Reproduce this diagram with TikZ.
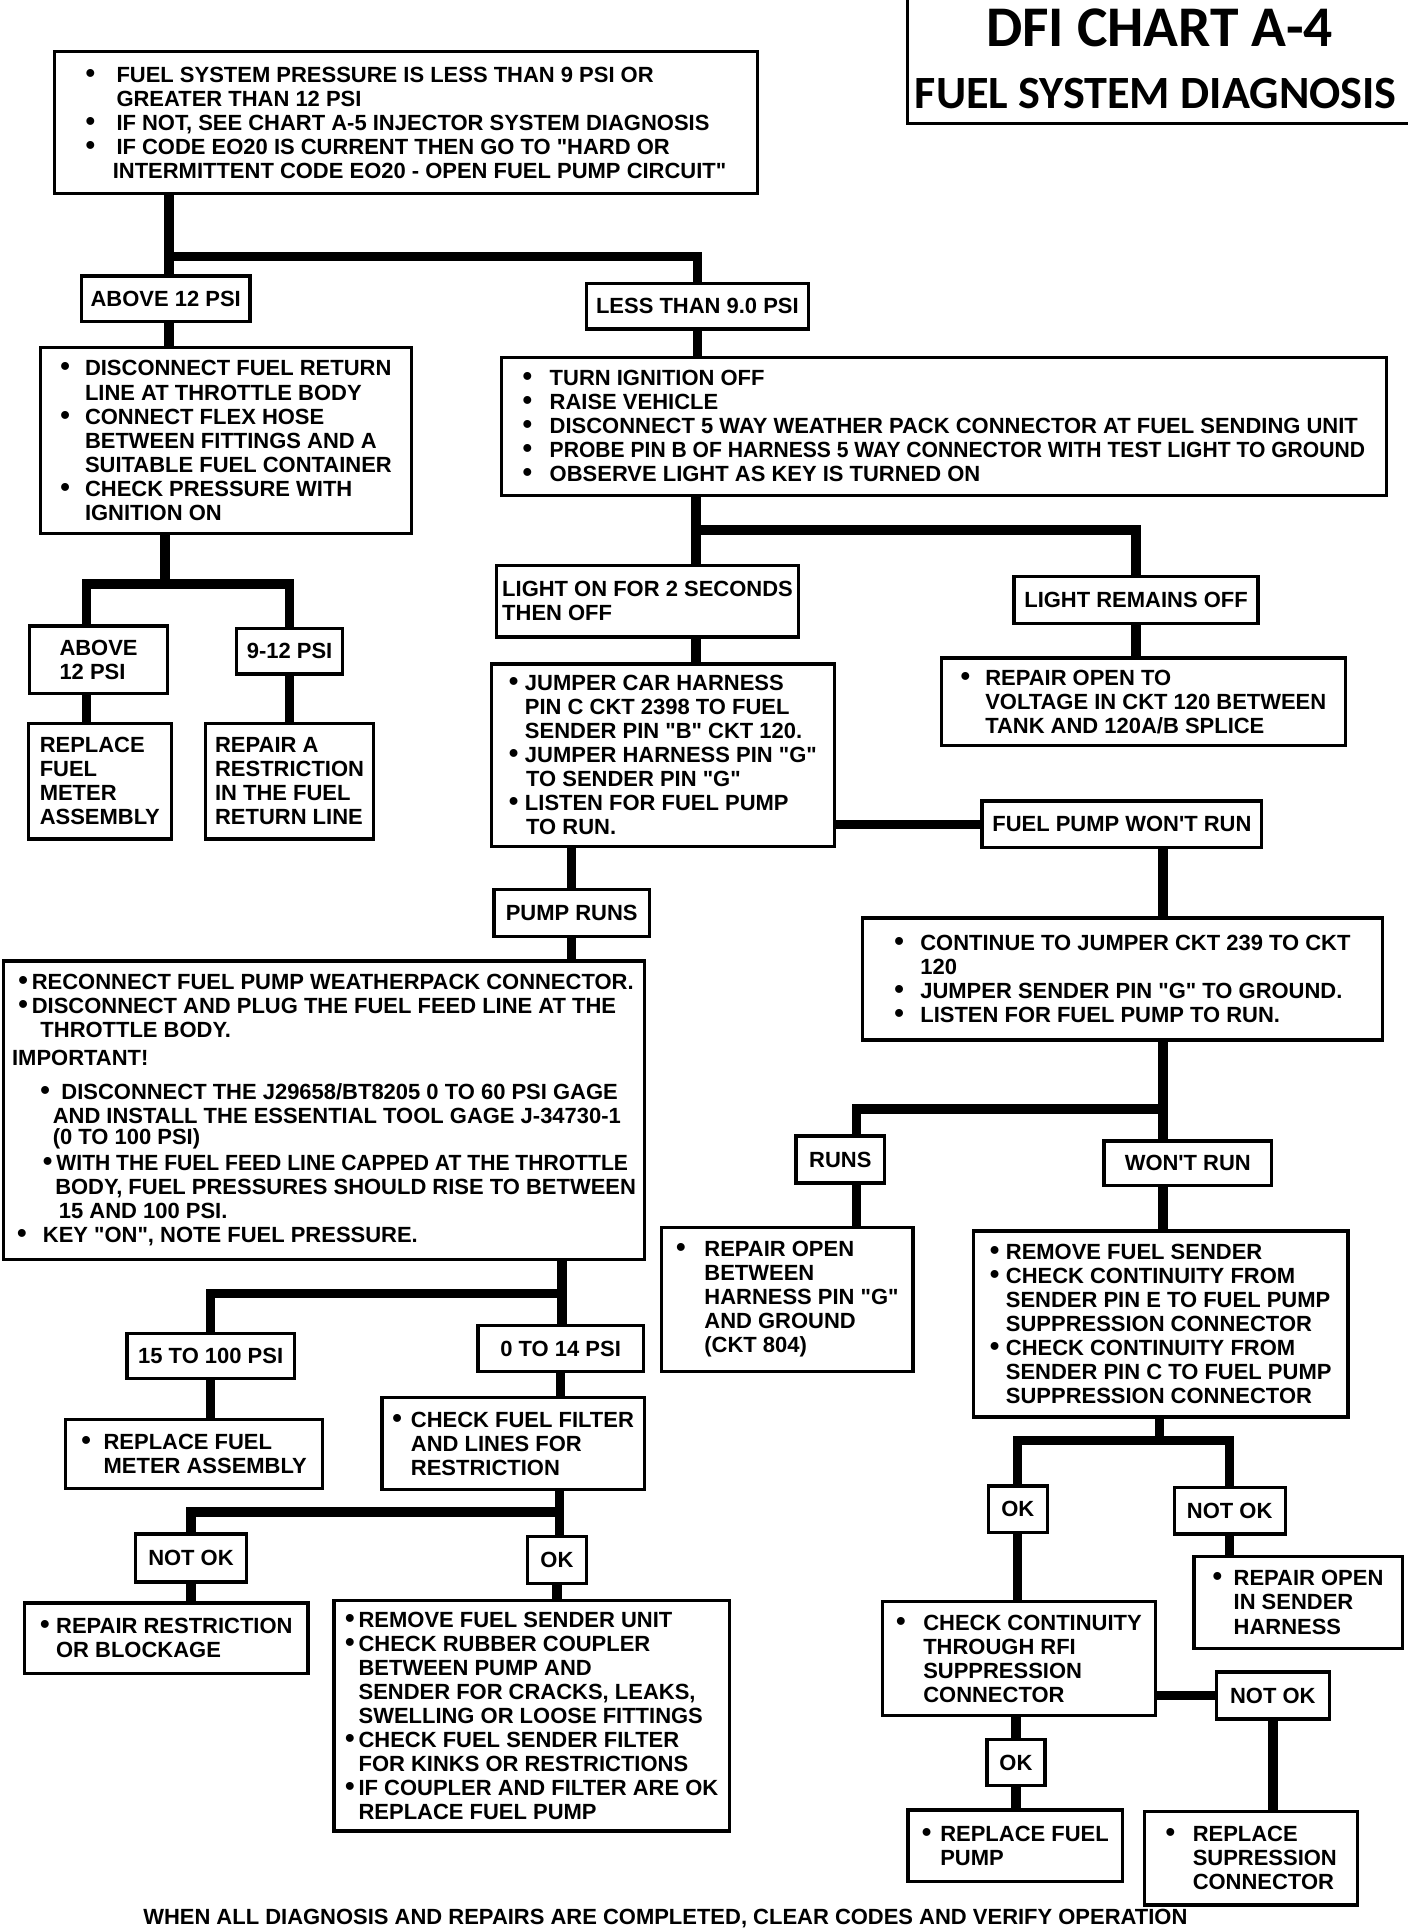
\documentclass[tikz,border=0pt]{standalone}
\usepackage{graphicx}
\usepackage{fontspec}
\newfontfamily\chartfont{Liberation Sans}
\newfontfamily\titlefont{Carlito}
\usepackage{tikz}
\usetikzlibrary{positioning}

\newlength{\un}\setlength{\un}{0.6pt}
\newcommand{\bl}[1][20]{\makebox[#1\un][l]{\scalebox{1.25}{\textbullet}}}
\newcommand{\ind}[1][20]{\hspace*{#1\un}}

\tikzset{
  box/.style={draw, line width=1.6pt, fill=white, align=left, inner sep=0pt,
    font=\chartfont\bfseries\fontsize{10.7}{11.7}\selectfont},
  wh/.style 2 args={minimum width=#1*0.6pt, minimum height=#2*0.6pt},
  conn/.style={line width=4.6pt},
  frame/.style={line width=1.6pt},
}

\begin{document}
\begin{tikzpicture}[x=0.6pt,y=-0.6pt]
\fill[white] (0,0) rectangle (1143,1568);
\useasboundingbox (0,0) rectangle (1143,1568);

% title
\draw[frame] (736.5,0) -- (736.5,100.5) -- (1143,100.5);
\node[font=\titlefont\bfseries\fontsize{28}{30}\selectfont] (title) at (941,23) {DFI CHART A-4};
\node[font=\titlefont\bfseries\fontsize{22.5}{24}\selectfont] (subtitle) at (938,76) {FUEL SYSTEM DIAGNOSIS};

% boxes
\node[box, wh={571}{115}] (start) at (329.5,99.5) {\bl[25]FUEL SYSTEM PRESSURE IS LESS THAN 9 PSI OR\\
\ind[25]GREATER THAN 12 PSI\\
\bl[25]IF NOT, SEE CHART A-5 INJECTOR SYSTEM DIAGNOSIS\\
\bl[25]IF CODE EO20 IS CURRENT THEN GO TO "HARD OR\\
\ind[22]INTERMITTENT CODE EO20 - OPEN FUEL PUMP CIRCUIT"};
\node[box, wh={137}{37}] (abv) at (134.5,242.5) {ABOVE 12 PSI};
\node[box, wh={180}{37}] (less) at (566,248.5) {LESS THAN 9.0 PSI};
\node[box, wh={301}{151}] (disc) at (183.5,357.5) {\bl DISCONNECT FUEL RETURN\\
\ind LINE AT THROTTLE BODY\\
\bl CONNECT FLEX HOSE\\
\ind BETWEEN FITTINGS AND A\\
\ind SUITABLE FUEL CONTAINER\\
\bl CHECK PRESSURE WITH\\
\ind IGNITION ON};
\node[box, wh={718}{112}] (probe) at (766,346) {\bl[22]TURN IGNITION OFF\\
\bl[22]RAISE VEHICLE\\
\bl[22]DISCONNECT 5 WAY WEATHER PACK CONNECTOR AT FUEL SENDING UNIT\\
\bl[22]\scalebox{0.96}[1]{PROBE PIN B OF HARNESS 5 WAY CONNECTOR WITH TEST LIGHT TO GROUND}\\
\bl[22]OBSERVE LIGHT AS KEY IS TURNED ON};
\node[box, wh={112}{55}] (abv2) at (80,535.5) {ABOVE\\12 PSI};
\node[box, wh={86}{37}] (mid) at (235,528.5) {9-12 PSI};
\node[box, wh={116}{94}] (repmeter) at (81,634) {REPLACE\\FUEL\\METER\\ASSEMBLY};
\node[box, wh={136}{94}] (represtr) at (235,634) {REPAIR A\\RESTRICTION\\IN THE FUEL\\RETURN LINE};
\node[box, wh={245}{58}] (lighton) at (525.5,488) {LIGHT ON FOR 2 SECONDS\\THEN OFF};
\node[box, wh={198}{38}] (lightoff) at (922,487) {LIGHT REMAINS OFF};
\node[box, wh={278}{148}] (jumper) at (538,613) {\bl[13]JUMPER CAR HARNESS\\
\ind[13]PIN C CKT 2398 TO FUEL\\
\ind[13]SENDER PIN "B" CKT 120.\\
\bl[13]JUMPER HARNESS PIN "G"\\
\ind[14]TO SENDER PIN "G"\\
\bl[13]LISTEN FOR FUEL PUMP\\
\ind[14]TO RUN.};
\node[box, wh={328}{71}] (repvolt) at (928,569.5) {\bl REPAIR OPEN TO\\
\ind VOLTAGE IN CKT 120 BETWEEN\\
\ind TANK AND 120A/B SPLICE};
\node[box, wh={227}{38}] (fpwr) at (910.5,669) {FUEL PUMP WON'T RUN};
\node[box, wh={422}{99}] (cont) at (911,794.5) {\bl[21]CONTINUE TO JUMPER CKT 239 TO CKT\\
\ind[21]120\\
\bl[21]JUMPER SENDER PIN "G" TO GROUND.\\
\bl[21]LISTEN FOR FUEL PUMP TO RUN.};
\node[box, wh={126}{38}] (pumpruns) at (464,741) {PUMP RUNS};
\node[box, wh={520}{242}] (reconn) at (263,901) {\ind[5]\bl[11]RECONNECT FUEL PUMP WEATHERPACK CONNECTOR.\\
\ind[5]\bl[11]DISCONNECT AND PLUG THE FUEL FEED LINE AT THE\\
\ind[23]THROTTLE BODY.\\[1.5pt]
IMPORTANT!\\[5pt]
\ind[23]\bl[17]DISCONNECT THE J29658/BT8205 0 TO 60 PSI GAGE\\
\ind[33]AND INSTALL THE ESSENTIAL TOOL GAGE J-34730-1\\[-1.5pt]
\ind[33](0 TO 100 PSI)\\[1pt]
\ind[25]\bl[11]\scalebox{0.96}[1]{WITH THE FUEL FEED LINE CAPPED AT THE THROTTLE}\\
\ind[35]BODY, FUEL PRESSURES SHOULD RISE TO BETWEEN\\
\ind[38]15 AND 100 PSI.\\
\ind[4]\bl[21]KEY "ON", NOTE FUEL PRESSURE.};
\node[box, wh={72}{38}] (runs) at (682,941) {RUNS};
\node[box, wh={136}{36}] (wontrun) at (964,944) {WON'T RUN};
\node[box, wh={204}{117}] (repgnd) at (639,1054.5) {\bl[23]REPAIR OPEN\\
\ind[23]BETWEEN\\
\ind[23]HARNESS PIN "G"\\
\ind[23]AND GROUND\\
\ind[23](CKT 804)};
\node[box, wh={304}{151}] (remsend) at (942,1074.5) {\bl[13]REMOVE FUEL SENDER\\
\bl[13]CHECK CONTINUITY FROM\\
\ind[13]SENDER PIN E TO FUEL PUMP\\
\ind[13]SUPPRESSION CONNECTOR\\
\bl[13]CHECK CONTINUITY FROM\\
\ind[13]SENDER PIN C TO FUEL PUMP\\
\ind[13]SUPPRESSION CONNECTOR};
\node[box, wh={136}{37}] (p15) at (171,1100.5) {15 TO 100 PSI};
\node[box, wh={134}{37}] (p0) at (455,1094.5) {0 TO 14 PSI};
\node[box, wh={209}{56}] (repmeter2) at (157.5,1180) {\bl[18]REPLACE FUEL\\
\ind[18]METER ASSEMBLY};
\node[box, wh={213}{75}] (filter) at (416.5,1171.5) {\bl[15]CHECK FUEL FILTER\\
\ind[15]AND LINES FOR\\
\ind[15]RESTRICTION};
\node[box, wh={90}{39}] (notok1) at (155,1264.5) {NOT OK};
\node[box, wh={48}{38}] (ok1) at (452,1266) {OK};
\node[box, wh={230}{57}] (blockage) at (135,1329.5) {\bl[13]REPAIR RESTRICTION\\
\ind[13]OR BLOCKAGE};
\node[box, wh={321}{187}] (remunit) at (431.5,1392.5) {\bl[11]REMOVE FUEL SENDER UNIT\\
\bl[11]CHECK RUBBER COUPLER\\
\ind[11]BETWEEN PUMP AND\\
\ind[11]SENDER FOR CRACKS, LEAKS,\\
\ind[11]SWELLING OR LOOSE FITTINGS\\
\bl[11]CHECK FUEL SENDER FILTER\\
\ind[11]FOR KINKS OR RESTRICTIONS\\
\bl[11]IF COUPLER AND FILTER ARE OK\\
\ind[11]REPLACE FUEL PUMP};
\node[box, wh={48}{38}] (ok2) at (826,1225) {OK};
\node[box, wh={90}{38}] (notok2) at (998,1226) {NOT OK};
\node[box, wh={222}{92}] (rfi) at (827,1346) {\bl[22]CHECK CONTINUITY\\
\ind[22]THROUGH RFI\\
\ind[22]SUPPRESSION\\
\ind[22]CONNECTOR};
\node[box, wh={169}{75}] (harness) at (1053.5,1300.5) {\bl[17]REPAIR OPEN\\
\ind[17]IN SENDER\\
\ind[17]HARNESS};
\node[box, wh={92}{38}] (notok3) at (1033,1376) {NOT OK};
\node[box, wh={47}{37}] (ok3) at (824.5,1430.5) {OK};
\node[box, wh={174}{58}] (reppump) at (824,1498) {\bl[15]REPLACE FUEL\\
\ind[15]PUMP};
\node[box, wh={173}{76}] (repsupp) at (1015.5,1508) {\bl[22]REPLACE\\
\ind[22]SUPRESSION\\
\ind[22]CONNECTOR};
\node[font=\chartfont\bfseries\fontsize{10.7}{11.7}\selectfont] (footer) at (540,1557) {WHEN ALL DIAGNOSIS AND REPAIRS ARE COMPLETED, CLEAR CODES AND VERIFY OPERATION};

% junctions
\coordinate (j1) at (137,208);
\coordinate (j2) at (134,474);
\coordinate (j2a) at (70,474);
\coordinate (j3) at (565,430);
\coordinate (j4) at (944,900);
\coordinate (j4a) at (695,900);
\coordinate (j5) at (456,1050);
\coordinate (j6) at (454,1227);
\coordinate (j7) at (941,1169);

% connectors
\draw[conn] (start.south -| j1) -- (j1);
\draw[conn] (abv.north -| j1) -- (j1) -| (less.north);
\draw[conn] (abv.south -| j1) -- (j1 |- disc.north);
\draw[conn] (less.south) -- (less.south |- probe.north);
\draw[conn] (disc.south -| j2) -- (j2);
\draw[conn] (abv2.north -| j2a) |- (j2) -| (mid.north);
\draw[conn] (abv2.south -| j2a) -- (j2a |- repmeter.north);
\draw[conn] (mid.south) -- (mid.south |- represtr.north);
\draw[conn] (probe.south -| j3) -- (j3);
\draw[conn] (lighton.north -| j3) -- (j3) -| (lightoff.north);
\draw[conn] (lighton.south -| j3) -- (j3 |- jumper.north);
\draw[conn] (lightoff.south) -- (lightoff.south |- repvolt.north);
\draw[conn] (jumper.east |- fpwr.west) -- (fpwr.west);
\draw[conn] (fpwr.south -| j4) -- (j4 |- cont.north);
\draw[conn] (jumper.south -| pumpruns.north) -- (pumpruns.north);
\draw[conn] (pumpruns.south) -- (pumpruns.south |- reconn.north);
\draw[conn] (cont.south -| j4) -- (j4);
\draw[conn] (runs.north -| j4a) |- (j4) -- (j4 |- wontrun.north);
\draw[conn] (runs.south -| j4a) -- (j4a |- repgnd.north);
\draw[conn] (wontrun.south -| j4) -- (j4 |- remsend.north);
\draw[conn] (reconn.south -| j5) -- (j5);
\draw[conn] (p15.north) |- (j5) -- (j5 |- p0.north);
\draw[conn] (p15.south) -- (p15.south |- repmeter2.north);
\draw[conn] (p0.south) -- (p0.south |- filter.north);
\draw[conn] (filter.south -| j6) -- (j6);
\draw[conn] (notok1.north) |- (j6) -- (j6 |- ok1.north);
\draw[conn] (notok1.south) -- (notok1.south |- blockage.north);
\draw[conn] (ok1.south) -- (ok1.south |- remunit.north);
\draw[conn] (remsend.south -| j7) -- (j7);
\draw[conn] (ok2.north) |- (j7) -| (notok2.north);
\draw[conn] (ok2.south) -- (ok2.south |- rfi.north);
\draw[conn] (notok2.south) -- (notok2.south |- harness.north);
\draw[conn] (rfi.east |- notok3.west) -- (notok3.west);
\draw[conn] (rfi.south -| ok3.north) -- (ok3.north);
\draw[conn] (ok3.south) -- (ok3.south |- reppump.north);
\draw[conn] (notok3.south) -- (notok3.south |- repsupp.north);
\end{tikzpicture}
\end{document}
